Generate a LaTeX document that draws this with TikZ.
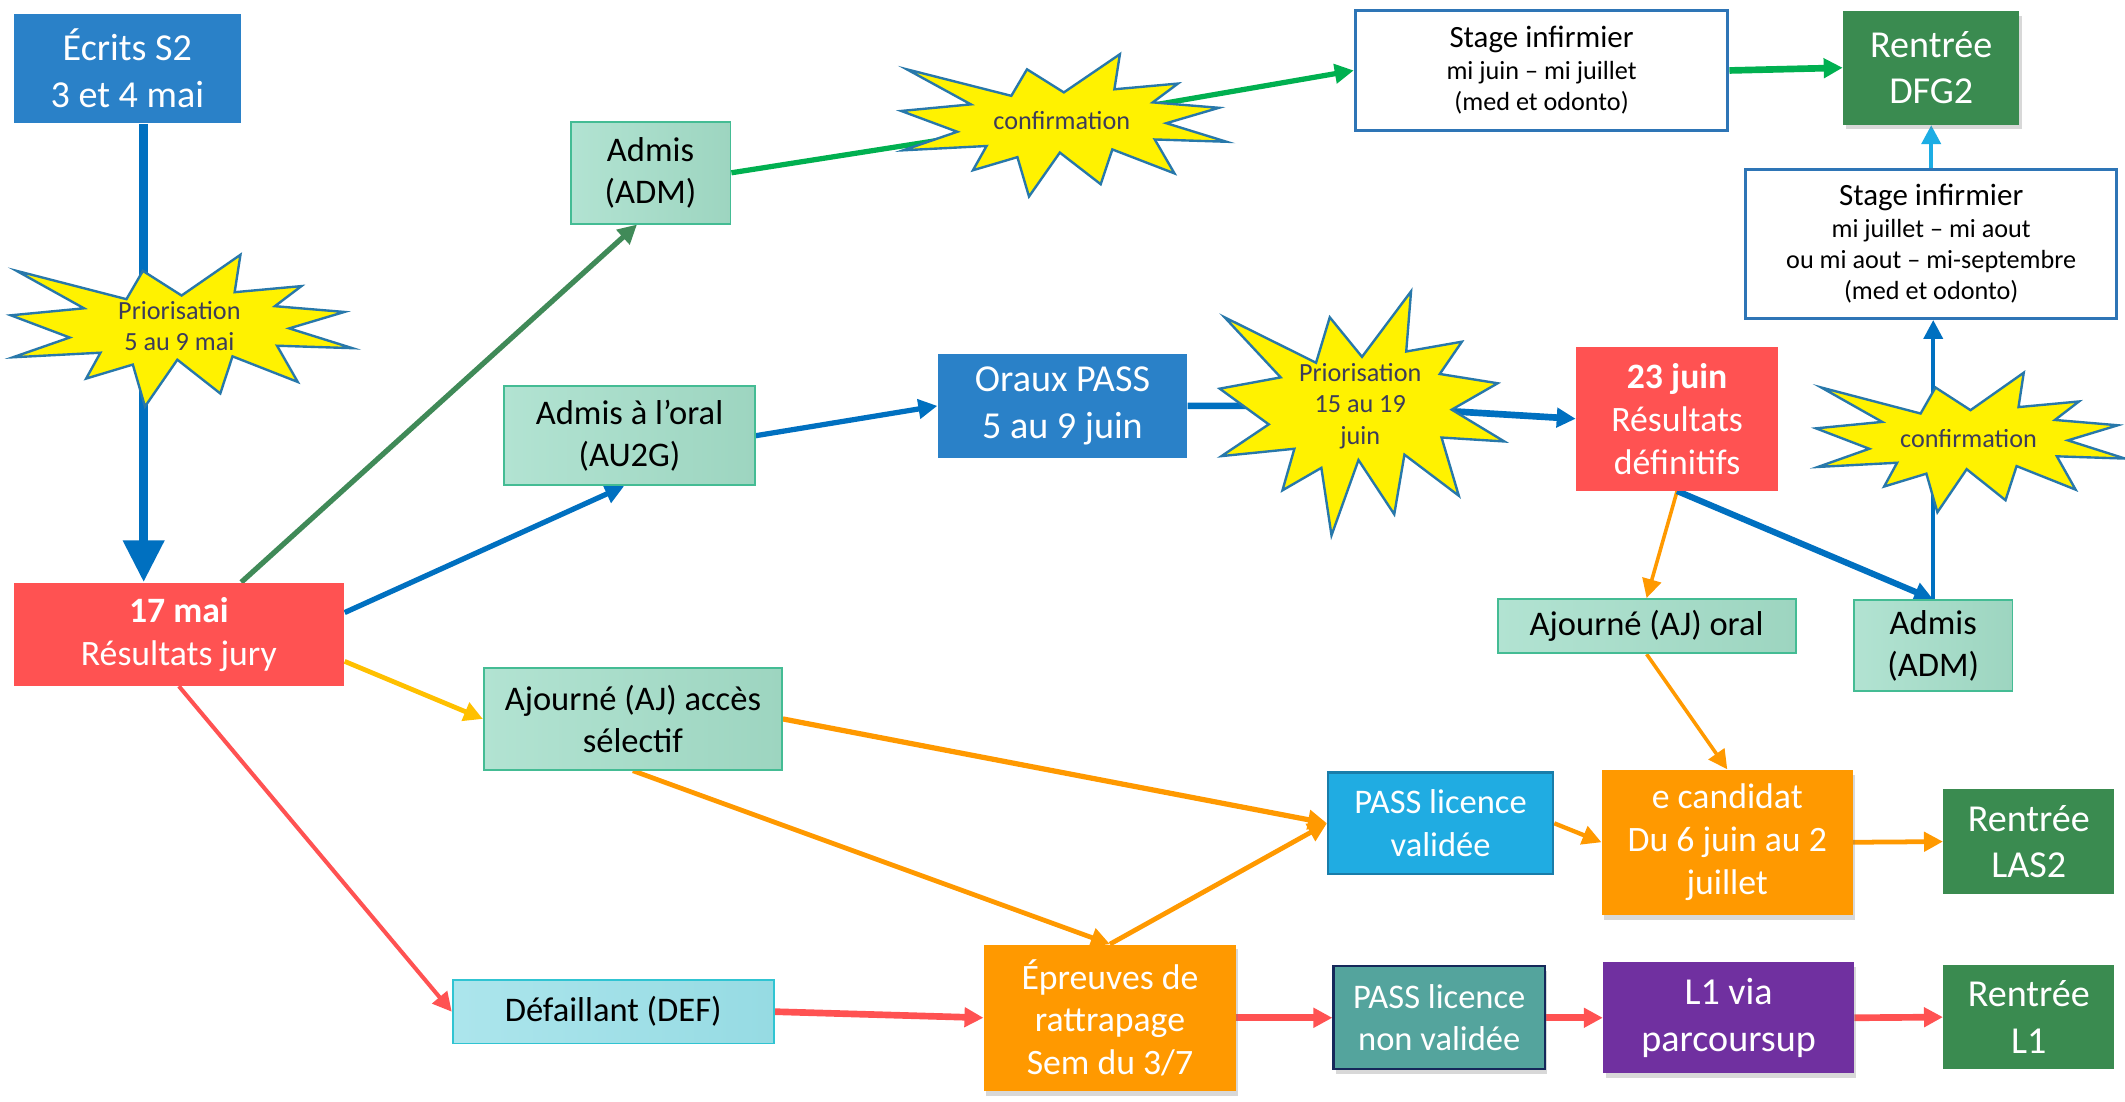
\documentclass[tikz,border=0pt]{standalone}
\usepackage{fontspec}
\setmainfont{Carlito}
\usetikzlibrary{arrows.meta,backgrounds,shadows}

\definecolor{boxblue}{RGB}{42,129,200}
\definecolor{arrblue}{RGB}{0,112,192}
\definecolor{boxred}{RGB}{255,82,82}
\definecolor{mintA}{RGB}{178,227,210}
\definecolor{mintB}{RGB}{157,213,192}
\definecolor{mintline}{RGB}{68,188,148}
\definecolor{cyanA}{RGB}{172,229,236}
\definecolor{cyanB}{RGB}{150,219,227}
\definecolor{cyanline}{RGB}{48,196,210}
\definecolor{boxgreen}{RGB}{58,139,80}
\definecolor{arrgreen}{RGB}{0,176,80}
\definecolor{darkgreen}{RGB}{64,138,88}
\definecolor{skyblue}{RGB}{32,172,226}
\definecolor{skyline}{RGB}{25,125,170}
\definecolor{arrsky}{RGB}{28,173,228}
\definecolor{boxorange}{RGB}{255,153,0}
\definecolor{amber}{RGB}{255,192,0}
\definecolor{passteal}{RGB}{84,164,157}
\definecolor{navyline}{RGB}{22,40,90}
\definecolor{boxpurple}{RGB}{112,48,160}
\definecolor{stageline}{RGB}{46,117,182}
\definecolor{burstline}{RGB}{40,120,170}
\definecolor{burstink}{RGB}{60,60,90}

\newcommand\bigtxt{\fontsize{16}{19.5}\selectfont}
\newcommand\medtxt{\fontsize{15}{18}\selectfont}
\newcommand\midtxt{\fontsize{14.5}{17.8}\selectfont}
\newcommand\smalltxt{\fontsize{11}{13.2}\selectfont}

\tikzset{
  box/.style={rectangle, align=center, inner sep=1pt},
  softshadow/.style={drop shadow={shadow xshift=1pt, shadow yshift=-2pt, opacity=0.3}},
  bluebox/.style={box, fill=boxblue, text=white, font=\bigtxt},
  redbox/.style={box, fill=boxred, text=white, font=\medtxt},
  mintbox/.style={box, draw=mintline, line width=0.8pt, left color=mintA, right color=mintB, text=black, font=\midtxt},
  stagebox/.style={box, draw=stageline, line width=1.3pt, fill=white, font=\smalltxt},
  greenbox/.style={box, fill=boxgreen, text=white, font=\bigtxt},
  orangebox/.style={box, fill=boxorange, text=white, font=\medtxt, softshadow},
  burst/.style={draw=burstline, line width=1pt, fill=yellow},
  bursttext/.style={text=burstink, font=\smalltxt, align=center, inner sep=0pt},
  link/.style={-{Triangle[length=0.28cm,width=0.28cm]}, line width=2.2pt},
}

% explosion shape: name, left, top, width, height, text
\newcommand\explosion[6]{%
  \begin{scope}[shift={(#2,#3)}, xscale={#4/216}, yscale={#5/216}]
    \filldraw[burst] (108,58) -- (83.52,22.95) -- (73.12,63.20) -- (3.70,22.95)
      -- (46.27,76.17) -- (0,86.15) -- (37.22,117.75) -- (1.35,145.87)
      -- (56.67,139.37) -- (47.62,176.17) -- (77.15,156.27) -- (84.85,216)
      -- (105.32,149.35) -- (132.47,197.37) -- (140.20,144.57) -- (181.45,180.95)
      -- (168.37,129.42) -- (216,132.90) -- (176.07,104.75) -- (210.97,81.37)
      -- (167.02,73.15) -- (183.80,44.57) -- (141.55,53.25) -- (145.22,0) -- cycle;
    \node[bursttext] (#1) at (106.6,101.3) {#6};
  \end{scope}}

\begin{document}
\begin{tikzpicture}[x=0.02cm, y=-0.02cm]
  \useasboundingbox (0,0) rectangle (1568,813);

  % left column
  \node[bluebox, minimum width=3.36cm, minimum height=1.62cm] (ecrits) at (94,50.5) {Écrits S2\\3 et 4 mai};
  \node[redbox, minimum width=4.88cm, minimum height=1.52cm] (jury) at (132,468) {\textbf{17 mai}\\Résultats jury};
  \explosion{prio1}{8}{188}{252}{112}{Priorisation\\5 au 9 mai}

  % results of the jury
  \node[mintbox, minimum width=2.36cm, minimum height=1.50cm] (adm1) at (480,127.5) {Admis\\(ADM)};
  \node[mintbox, minimum width=3.70cm, minimum height=1.46cm] (au2g) at (464.5,321.5) {Admis à l’oral\\(AU2G)};
  \node[mintbox, minimum width=4.40cm, minimum height=1.50cm] (ajsel) at (467,530.5) {Ajourné (AJ) accès\\sélectif};
  \node[box, draw=cyanline, line width=0.8pt, left color=cyanA, right color=cyanB, font=\midtxt,
        minimum width=4.74cm, minimum height=0.94cm] (def) at (452.5,746.5) {Défaillant (DEF)};

  % top row
  \explosion{conf1}{665}{40}{240}{105}{confirmation}
  \node[stagebox, minimum width=5.50cm, minimum height=1.76cm] (stage1) at (1137.5,52)
    {{\fontsize{13}{15}\selectfont Stage infirmier}\\mi juin – mi juillet\\(med et odonto)};
  \node[greenbox, softshadow, minimum width=2.60cm, minimum height=1.68cm] (dfg2) at (1425,50) {Rentrée\\DFG2};
  \node[stagebox, minimum width=5.48cm, minimum height=2.20cm] (stage2) at (1425,180)
    {{\fontsize{13}{15}\selectfont Stage infirmier}\\mi juillet – mi aout\\ou mi aout – mi-septembre\\(med et odonto)};

  % oral
  \node[bluebox, minimum width=3.68cm, minimum height=1.54cm] (oraux) at (784,299.5) {Oraux PASS\\5 au 9 juin};
  \explosion{prio2}{900}{215}{210}{180}{Priorisation\\15 au 19\\juin}
  \node[redbox, minimum width=2.98cm, minimum height=2.12cm] (res) at (1237.5,309) {\textbf{23 juin}\\Résultats\\définitifs};
  \node[mintbox, minimum width=4.40cm, minimum height=0.80cm] (ajoral) at (1215,462) {Ajourné (AJ) oral};
  \node[mintbox, minimum width=2.34cm, minimum height=1.34cm] (adm2) at (1426.5,476.5) {Admis\\(ADM)};
  \explosion{conf2}{1340}{275}{228}{103}{confirmation}

  % LAS row
  \node[box, fill=skyblue, draw=skyline, line width=1pt, text=white, font=\midtxt,
        minimum width=3.32cm, minimum height=1.50cm] (passval) at (1063,607.5) {PASS licence\\validée};
  \node[orangebox, minimum width=3.70cm, minimum height=2.14cm] (ecand) at (1274.5,621.5) {e candidat\\Du 6 juin au 2\\juillet};
  \node[greenbox, minimum width=2.52cm, minimum height=1.56cm] (las2) at (1497,621) {Rentrée\\LAS2};

  % bottom row
  \node[orangebox, minimum width=3.72cm, minimum height=2.16cm] (rattr) at (819,751) {Épreuves de\\rattrapage\\Sem du 3/7};
  \node[box, fill=passteal, draw=navyline, line width=1pt, text=white, font=\midtxt, softshadow,
        minimum width=3.12cm, minimum height=1.52cm] (passnon) at (1062,751) {PASS licence\\non validée};
  \node[box, fill=boxpurple, text=white, font=\bigtxt, softshadow,
        minimum width=3.70cm, minimum height=1.64cm] (l1) at (1275.5,751) {L1 via\\parcoursup};
  \node[greenbox, minimum width=2.52cm, minimum height=1.54cm] (rl1) at (1497,750.5) {Rentrée\\L1};

  \begin{pgfonlayer}{background}
    \fill[white] (0,0) rectangle (1568,813);
    \draw[link, arrblue, line width=4pt, -{Triangle[length=0.62cm,width=0.58cm]}]
      ([shift={(12,0)}]ecrits.south) -- ([shift={(-26,0)}]jury.north);
    \draw[link, darkgreen] ([shift={(46,0)}]jury.north) -- ([shift={(-10,0)}]adm1.south);
    \draw[link, arrblue] ([shift={(0,-16)}]jury.east) -- ([shift={(-4,0)}]au2g.south);
    \draw[link, amber, line width=2pt] ([shift={(0,20)}]jury.east) -- (ajsel.west);
    \draw[link, boxred, line width=1.7pt] (jury.south) -- (def.west);

    \draw[link, arrgreen] (adm1.east) -- (conf1.center) -- (stage1.west);
    \draw[link, arrgreen, line width=2.8pt] (stage1.east) -- (dfg2.west);
    \draw[link, arrsky, line width=1.7pt] (stage2.north) -- (dfg2.south);

    \draw[link, arrblue] (au2g.east) -- (oraux.west);
    \draw[link, arrblue, line width=2.8pt] (oraux.east) -- (prio2.center) -- (res.west);
    \draw[link, boxorange, line width=1.5pt] (res.south) -- (ajoral.north);
    \draw[link, arrblue, line width=2.6pt] (res.south) -- (adm2.north);
    \draw[link, arrblue, line width=1.7pt] (adm2.north) -- (adm2.north |- stage2.south);

    \draw[link, boxorange] (ajsel.east) -- (passval.west);
    \draw[link, boxorange, line width=2pt] (ajsel.south) -- (rattr.north);
    \draw[link, boxorange, line width=2pt] (rattr.north) -- (passval.west);
    \draw[link, boxorange, line width=1.5pt] (ajoral.south) -- (ecand.north);
    \draw[link, boxorange, line width=1.8pt] (passval.east) -- (ecand.west);
    \draw[link, boxorange, line width=2pt] (ecand.east) -- (las2.west);

    \draw[link, boxred, line width=2.8pt] (def.east) -- (rattr.west);
    \draw[link, boxred, line width=2.8pt] (rattr.east) -- (passnon.west);
    \draw[link, boxred, line width=2.8pt] (passnon.east) -- (l1.west);
    \draw[link, boxred, line width=2.8pt] (l1.east) -- (rl1.west);
  \end{pgfonlayer}
\end{tikzpicture}
\end{document}
